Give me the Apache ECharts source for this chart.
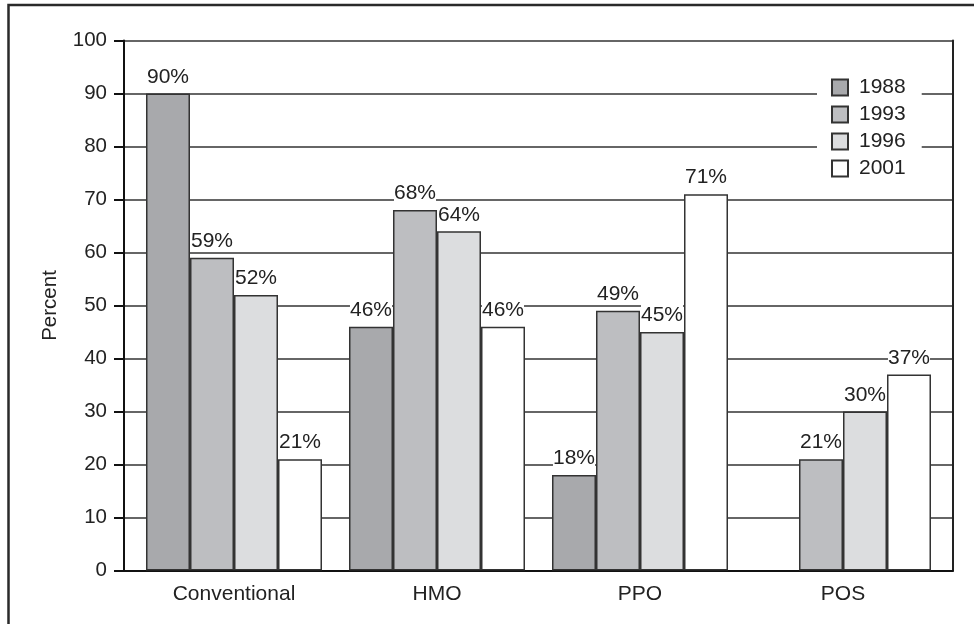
<!DOCTYPE html>
<html>
<head>
<meta charset="utf-8">
<title>Plan type enrollment</title>
<script src="https://cdn.jsdelivr.net/npm/echarts@6/dist/echarts.min.js"></script>
<style>
  html, body { margin: 0; padding: 0; background: #fff; }
  #chart { width: 974px; height: 624px; }
</style>
</head>
<body>
<div id="chart"></div>
<script>
// Plan types along the category axis
const planTypes = ['Conventional', 'HMO', 'PPO', 'POS'];

// Enrollment share (percent) by survey year
const years = ['1988', '1993', '1996', '2001'];
const share1988 = [90, 46, 18, null];
const share1993 = [59, 68, 49, 21];
const share1996 = [52, 64, 45, 30];
const share2001 = [21, 46, 71, 37];

// Value axis ticks
const yTicks = [0, 10, 20, 30, 40, 50, 60, 70, 80, 90, 100];

const seriesValues = [share1988, share1993, share1996, share2001];
const fills = ['#a8a9ac', '#bdbec1', '#dcdddf', '#ffffff'];

const FONT = '"Liberation Sans", Arial, Helvetica, sans-serif';
const INK = '#222222';
const FS = 21;

const chart = echarts.init(document.getElementById('chart'), null, { renderer: 'canvas' });

const option = {
  backgroundColor: '#ffffff',
  animation: false,
  textStyle: { fontFamily: FONT, color: INK },
  graphic: [{
    type: 'polyline',
    shape: { points: [[8.5, 624], [8.5, 5], [974, 5]] },
    style: { stroke: '#2a2a2a', lineWidth: 2.5, fill: null },
    silent: true
  }],
  legend: {
    data: years,
    orient: 'vertical',
    left: 817,
    top: 69,
    padding: [8, 16, 8, 14],
    backgroundColor: '#ffffff',
    itemWidth: 16,
    itemHeight: 16,
    itemGap: 6.0,
    selectedMode: false,
    icon: 'rect',
    textStyle: { fontSize: FS, color: INK, fontFamily: FONT, padding: [0, 0, 0, 6] }
  },
  grid: [
    { left: 124, right: 21, top: 40.5, bottom: 53.5, containLabel: false },
    { left: 132.5, right: 29.5, top: 40.5, bottom: 53.5, containLabel: false }
  ],
  xAxis: [
    {
      gridIndex: 0, type: 'category', data: planTypes,
      axisLine: { show: true, lineStyle: { color: '#111', width: 2 } },
      axisTick: { show: false }, axisLabel: { show: false }, splitLine: { show: false }
    },
    {
      gridIndex: 1, type: 'category', data: planTypes,
      axisLine: { show: false }, axisTick: { show: false },
      axisLabel: { fontSize: FS, color: INK, fontFamily: FONT, margin: 13 }
    }
  ],
  yAxis: [
    {
      gridIndex: 0, type: 'value', min: yTicks[0], max: yTicks[yTicks.length - 1], interval: 10,
      position: 'left',
      name: 'Percent', nameLocation: 'middle', nameGap: 63, nameRotate: 90,
      nameTextStyle: { fontSize: 20.5, color: INK, fontFamily: FONT },
      axisLine: { show: true, lineStyle: { color: '#111', width: 2 } },
      axisTick: { show: true, length: 10, lineStyle: { color: '#111', width: 2 } },
      axisLabel: { fontSize: 20.5, color: INK, fontFamily: FONT, margin: 17 },
      splitLine: { show: true, lineStyle: { color: '#333', width: 1.5 } }
    },
    {
      gridIndex: 0, type: 'value', min: yTicks[0], max: yTicks[yTicks.length - 1], interval: 10,
      position: 'right',
      axisLine: { show: true, lineStyle: { color: '#222', width: 2 } },
      axisTick: { show: false }, axisLabel: { show: false }, splitLine: { show: false }
    },
    {
      gridIndex: 1, type: 'value', min: yTicks[0], max: yTicks[yTicks.length - 1], interval: 10,
      show: false
    }
  ],
  series: years.map((yr, i) => ({
    name: yr,
    type: 'bar',
    xAxisIndex: 1,
    yAxisIndex: 2,
    data: seriesValues[i],
    barGap: '0%',
    barCategoryGap: '13.3%',
    itemStyle: { color: fills[i], borderColor: '#333', borderWidth: 1.5 },
    label: {
      show: true,
      position: 'top',
      distance: 6,
      formatter: p => p.value == null ? '' : p.value + '%',
      fontSize: FS,
      color: INK,
      fontFamily: FONT,
      backgroundColor: '#ffffff',
      padding: [1, 0, 0, 0]
    },
    z: 3
  }))
};

chart.setOption(option);
</script>
</body>
</html>
